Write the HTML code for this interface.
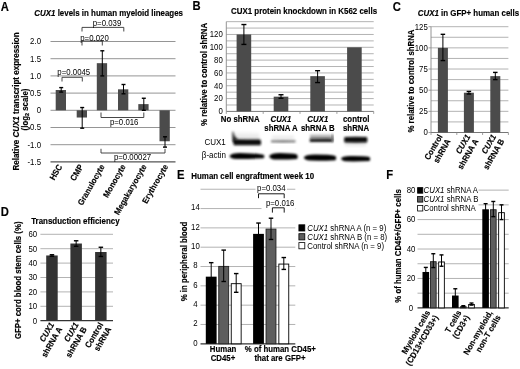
<!DOCTYPE html>
<html><head><meta charset="utf-8"><style>
html,body{margin:0;padding:0;background:#fff;}
svg{display:block;filter:blur(0.3px);font-family:"Liberation Sans", sans-serif;}
text{stroke:#000;stroke-width:0px;}
text[font-weight=bold],g text{stroke-width:0.15px;}
</style></head><body>
<svg width="520" height="369" viewBox="0 0 520 369">
<rect width="520" height="369" fill="#fff"/>
<text x="0" y="0" font-size="12.10" font-weight="bold" text-anchor="start" fill="#000" transform="translate(0.80 10.60) scale(0.93 1)">A</text>
<text x="0" y="0" font-size="8.53" font-weight="bold" text-anchor="start" fill="#000" transform="translate(34.30 15.50) scale(0.93 1)"><tspan font-style="italic">CUX1</tspan> levels in human myeloid lineages</text>
<line x1="50.50" y1="41.50" x2="175.50" y2="41.50" stroke="#7a7a7a" stroke-width="0.8"/>
<text x="0" y="0" font-size="8.42" text-anchor="end" fill="#000" transform="translate(41.00 44.30) scale(0.93 1)">2.0</text>
<line x1="50.50" y1="58.70" x2="175.50" y2="58.70" stroke="#7a7a7a" stroke-width="0.8"/>
<text x="0" y="0" font-size="8.42" text-anchor="end" fill="#000" transform="translate(41.00 61.50) scale(0.93 1)">1.5</text>
<line x1="50.50" y1="75.90" x2="175.50" y2="75.90" stroke="#7a7a7a" stroke-width="0.8"/>
<text x="0" y="0" font-size="8.42" text-anchor="end" fill="#000" transform="translate(41.00 78.70) scale(0.93 1)">1.0</text>
<line x1="50.50" y1="93.10" x2="175.50" y2="93.10" stroke="#7a7a7a" stroke-width="0.8"/>
<text x="0" y="0" font-size="8.42" text-anchor="end" fill="#000" transform="translate(41.00 95.90) scale(0.93 1)">0.5</text>
<line x1="50.50" y1="110.30" x2="175.50" y2="110.30" stroke="#7a7a7a" stroke-width="0.8"/>
<text x="0" y="0" font-size="8.42" text-anchor="end" fill="#000" transform="translate(41.00 113.10) scale(0.93 1)">0</text>
<line x1="50.50" y1="127.50" x2="175.50" y2="127.50" stroke="#7a7a7a" stroke-width="0.8"/>
<text x="0" y="0" font-size="8.42" text-anchor="end" fill="#000" transform="translate(41.00 130.30) scale(0.93 1)">-0.5</text>
<line x1="50.50" y1="144.70" x2="175.50" y2="144.70" stroke="#7a7a7a" stroke-width="0.8"/>
<text x="0" y="0" font-size="8.42" text-anchor="end" fill="#000" transform="translate(41.00 147.50) scale(0.93 1)">-1.0</text>
<line x1="50.50" y1="161.90" x2="175.50" y2="161.90" stroke="#555" stroke-width="1.3"/>
<text x="0" y="0" font-size="8.42" text-anchor="end" fill="#000" transform="translate(41.00 164.70) scale(0.93 1)">-1.5</text>
<text x="0" y="0" font-size="8.64" font-weight="bold" text-anchor="middle" fill="#000" transform="translate(19.20 101.50) rotate(-90) scale(0.93 1)">Relative <tspan font-style="italic">CUX1</tspan> transcript expression</text>
<text x="0" y="0" font-size="8.42" font-weight="bold" text-anchor="middle" transform="translate(27.8 109.5) rotate(-90) scale(0.93 1)">(log<tspan font-size="5.94" dy="1.5">2</tspan><tspan dy="-1.5"> scale)</tspan></text>
<rect x="55.70" y="90.00" width="10.30" height="20.30" fill="#4b4b4b"/>
<rect x="76.70" y="110.30" width="10.30" height="7.22" fill="#4b4b4b"/>
<rect x="96.80" y="63.17" width="10.30" height="47.13" fill="#4b4b4b"/>
<rect x="118.00" y="89.32" width="10.30" height="20.98" fill="#4b4b4b"/>
<rect x="138.30" y="104.11" width="10.30" height="6.19" fill="#4b4b4b"/>
<rect x="159.50" y="110.30" width="10.30" height="30.96" fill="#4b4b4b"/>
<line x1="61.20" y1="87.60" x2="61.20" y2="92.07" stroke="#000" stroke-width="1"/>
<line x1="59.20" y1="87.60" x2="63.20" y2="87.60" stroke="#000" stroke-width="1.4"/>
<line x1="59.20" y1="92.07" x2="63.20" y2="92.07" stroke="#000" stroke-width="1.4"/>
<line x1="82.20" y1="107.55" x2="82.20" y2="128.19" stroke="#000" stroke-width="1"/>
<line x1="80.20" y1="107.55" x2="84.20" y2="107.55" stroke="#000" stroke-width="1.4"/>
<line x1="80.20" y1="128.19" x2="84.20" y2="128.19" stroke="#000" stroke-width="1.4"/>
<line x1="102.30" y1="50.79" x2="102.30" y2="75.90" stroke="#000" stroke-width="1"/>
<line x1="100.30" y1="50.79" x2="104.30" y2="50.79" stroke="#000" stroke-width="1.4"/>
<line x1="100.30" y1="75.90" x2="104.30" y2="75.90" stroke="#000" stroke-width="1.4"/>
<line x1="123.50" y1="84.50" x2="123.50" y2="93.79" stroke="#000" stroke-width="1"/>
<line x1="121.50" y1="84.50" x2="125.50" y2="84.50" stroke="#000" stroke-width="1.4"/>
<line x1="121.50" y1="93.79" x2="125.50" y2="93.79" stroke="#000" stroke-width="1.4"/>
<line x1="143.80" y1="98.26" x2="143.80" y2="110.30" stroke="#000" stroke-width="1"/>
<line x1="141.80" y1="98.26" x2="145.80" y2="98.26" stroke="#000" stroke-width="1.4"/>
<line x1="141.80" y1="110.30" x2="145.80" y2="110.30" stroke="#000" stroke-width="1.4"/>
<line x1="165.00" y1="136.79" x2="165.00" y2="147.11" stroke="#000" stroke-width="1"/>
<line x1="163.00" y1="136.79" x2="167.00" y2="136.79" stroke="#000" stroke-width="1.4"/>
<line x1="163.00" y1="147.11" x2="167.00" y2="147.11" stroke="#000" stroke-width="1.4"/>
<path d="M62.0 81.5 L62.0 77.3 L82.3 77.3 L82.3 81.5" stroke="#333" stroke-width="0.9" fill="none"/>
<text x="0" y="0" font-size="8.42" text-anchor="middle" fill="#000" transform="translate(73.80 75.30) scale(0.93 1)">p=0.0045</text>
<path d="M82.0 45.5 L82.0 41.0 L102.3 41.0 L102.3 45.5" stroke="#333" stroke-width="0.9" fill="none"/>
<text x="0" y="0" font-size="8.42" text-anchor="middle" fill="#000" transform="translate(94.50 40.50) scale(0.93 1)">p=0.020</text>
<path d="M82.0 31.5 L82.0 27.4 L123.8 27.4 L123.8 31.5" stroke="#333" stroke-width="0.9" fill="none"/>
<text x="0" y="0" font-size="8.42" text-anchor="middle" fill="#000" transform="translate(107.00 26.20) scale(0.93 1)">p=0.039</text>
<path d="M101.0 112.5 L101.0 117.5 L143.8 117.5 L143.8 112.5" stroke="#333" stroke-width="0.9" fill="none"/>
<text x="0" y="0" font-size="8.42" text-anchor="middle" fill="#000" transform="translate(124.20 125.30) scale(0.93 1)">p=0.016</text>
<path d="M101.0 148.8 L101.0 153.0 L165.0 153.0 L165.0 148.8" stroke="#333" stroke-width="0.9" fill="none"/>
<text x="0" y="0" font-size="8.42" text-anchor="middle" fill="#000" transform="translate(132.50 160.20) scale(0.93 1)">p=0.00027</text>
<text x="0" y="0" font-size="8.42" font-weight="bold" text-anchor="end" fill="#000" transform="translate(62.50 166.50) rotate(-60) scale(0.93 1)">HSC</text>
<text x="0" y="0" font-size="8.42" font-weight="bold" text-anchor="end" fill="#000" transform="translate(83.50 166.50) rotate(-60) scale(0.93 1)">CMP</text>
<text x="0" y="0" font-size="8.42" font-weight="bold" text-anchor="end" fill="#000" transform="translate(105.00 166.50) rotate(-60) scale(0.93 1)">Granulocyte</text>
<text x="0" y="0" font-size="8.42" font-weight="bold" text-anchor="end" fill="#000" transform="translate(126.00 166.50) rotate(-60) scale(0.93 1)">Monocyte</text>
<text x="0" y="0" font-size="8.42" font-weight="bold" text-anchor="end" fill="#000" transform="translate(147.00 166.50) rotate(-60) scale(0.93 1)">Megakaryocyte</text>
<text x="0" y="0" font-size="8.42" font-weight="bold" text-anchor="end" fill="#000" transform="translate(168.50 166.50) rotate(-60) scale(0.93 1)">Erythrocyte</text>
<text x="0" y="0" font-size="12.10" font-weight="bold" text-anchor="start" fill="#000" transform="translate(192.60 10.30) scale(0.93 1)">B</text>
<text x="0" y="0" font-size="8.53" font-weight="bold" text-anchor="start" fill="#000" transform="translate(231.00 14.00) scale(0.93 1)">CUX1 protein knockdown in K562 cells</text>
<line x1="226.30" y1="104.99" x2="373.70" y2="104.99" stroke="#a0a0a0" stroke-width="0.8"/>
<line x1="226.30" y1="98.58" x2="373.70" y2="98.58" stroke="#a0a0a0" stroke-width="0.8"/>
<line x1="226.30" y1="92.17" x2="373.70" y2="92.17" stroke="#a0a0a0" stroke-width="0.8"/>
<line x1="226.30" y1="85.76" x2="373.70" y2="85.76" stroke="#a0a0a0" stroke-width="0.8"/>
<line x1="226.30" y1="79.35" x2="373.70" y2="79.35" stroke="#a0a0a0" stroke-width="0.8"/>
<line x1="226.30" y1="72.94" x2="373.70" y2="72.94" stroke="#a0a0a0" stroke-width="0.8"/>
<line x1="226.30" y1="66.53" x2="373.70" y2="66.53" stroke="#a0a0a0" stroke-width="0.8"/>
<line x1="226.30" y1="60.12" x2="373.70" y2="60.12" stroke="#a0a0a0" stroke-width="0.8"/>
<line x1="226.30" y1="53.71" x2="373.70" y2="53.71" stroke="#a0a0a0" stroke-width="0.8"/>
<line x1="226.30" y1="47.30" x2="373.70" y2="47.30" stroke="#a0a0a0" stroke-width="0.8"/>
<line x1="226.30" y1="40.89" x2="373.70" y2="40.89" stroke="#a0a0a0" stroke-width="0.8"/>
<line x1="226.30" y1="34.48" x2="373.70" y2="34.48" stroke="#a0a0a0" stroke-width="0.8"/>
<line x1="226.30" y1="28.07" x2="373.70" y2="28.07" stroke="#a0a0a0" stroke-width="0.8"/>
<line x1="226.30" y1="21.66" x2="373.70" y2="21.66" stroke="#a0a0a0" stroke-width="0.8"/>
<line x1="226.30" y1="21.66" x2="226.30" y2="111.40" stroke="#888" stroke-width="0.9"/>
<line x1="226.30" y1="111.40" x2="373.70" y2="111.40" stroke="#777" stroke-width="1.0"/>
<line x1="226.30" y1="111.40" x2="226.30" y2="113.90" stroke="#888" stroke-width="0.8"/>
<line x1="263.20" y1="111.40" x2="263.20" y2="113.90" stroke="#888" stroke-width="0.8"/>
<line x1="300.00" y1="111.40" x2="300.00" y2="113.90" stroke="#888" stroke-width="0.8"/>
<line x1="336.90" y1="111.40" x2="336.90" y2="113.90" stroke="#888" stroke-width="0.8"/>
<line x1="373.70" y1="111.40" x2="373.70" y2="113.90" stroke="#888" stroke-width="0.8"/>
<text x="0" y="0" font-size="8.42" text-anchor="end" fill="#000" transform="translate(222.80 114.20) scale(0.93 1)">0</text>
<text x="0" y="0" font-size="8.42" text-anchor="end" fill="#000" transform="translate(222.80 101.38) scale(0.93 1)">20</text>
<text x="0" y="0" font-size="8.42" text-anchor="end" fill="#000" transform="translate(222.80 88.56) scale(0.93 1)">40</text>
<text x="0" y="0" font-size="8.42" text-anchor="end" fill="#000" transform="translate(222.80 75.74) scale(0.93 1)">60</text>
<text x="0" y="0" font-size="8.42" text-anchor="end" fill="#000" transform="translate(222.80 62.92) scale(0.93 1)">80</text>
<text x="0" y="0" font-size="8.42" text-anchor="end" fill="#000" transform="translate(222.80 50.10) scale(0.93 1)">100</text>
<text x="0" y="0" font-size="8.42" text-anchor="end" fill="#000" transform="translate(222.80 37.28) scale(0.93 1)">120</text>
<text x="0" y="0" font-size="8.42" font-weight="bold" text-anchor="middle" fill="#000" transform="translate(206.60 74.40) rotate(-90) scale(0.93 1)">% relative to control shRNA</text>
<rect x="236.60" y="34.48" width="14.60" height="76.92" fill="#4b4b4b"/>
<line x1="243.90" y1="24.54" x2="243.90" y2="44.42" stroke="#000" stroke-width="1"/>
<line x1="241.40" y1="24.54" x2="246.40" y2="24.54" stroke="#000" stroke-width="1.4"/>
<line x1="241.40" y1="44.42" x2="246.40" y2="44.42" stroke="#000" stroke-width="1.4"/>
<rect x="273.70" y="96.66" width="14.60" height="14.74" fill="#4b4b4b"/>
<line x1="281.00" y1="94.73" x2="281.00" y2="98.26" stroke="#000" stroke-width="1"/>
<line x1="278.50" y1="94.73" x2="283.50" y2="94.73" stroke="#000" stroke-width="1.4"/>
<line x1="278.50" y1="98.26" x2="283.50" y2="98.26" stroke="#000" stroke-width="1.4"/>
<rect x="310.30" y="76.15" width="14.60" height="35.25" fill="#4b4b4b"/>
<line x1="317.60" y1="70.70" x2="317.60" y2="82.56" stroke="#000" stroke-width="1"/>
<line x1="315.10" y1="70.70" x2="320.10" y2="70.70" stroke="#000" stroke-width="1.4"/>
<line x1="315.10" y1="82.56" x2="320.10" y2="82.56" stroke="#000" stroke-width="1.4"/>
<rect x="347.10" y="47.30" width="14.60" height="64.10" fill="#4b4b4b"/>
<text x="0" y="0" font-size="8.42" font-weight="bold" text-anchor="middle" fill="#000" transform="translate(240.20 122.20) scale(0.93 1)">No shRNA</text>
<text x="0" y="0" font-size="8.42" font-weight="bold" text-anchor="middle" fill="#000" transform="translate(281.00 122.00) scale(0.93 1)"><tspan font-style="italic">CUX1</tspan></text>
<text x="0" y="0" font-size="8.42" font-weight="bold" text-anchor="middle" fill="#000" transform="translate(281.00 130.80) scale(0.93 1)">shRNA A</text>
<text x="0" y="0" font-size="8.42" font-weight="bold" text-anchor="middle" fill="#000" transform="translate(317.80 122.00) scale(0.93 1)"><tspan font-style="italic">CUX1</tspan></text>
<text x="0" y="0" font-size="8.42" font-weight="bold" text-anchor="middle" fill="#000" transform="translate(317.80 130.80) scale(0.93 1)">shRNA B</text>
<text x="0" y="0" font-size="8.42" font-weight="bold" text-anchor="start" fill="#000" transform="translate(343.00 122.00) scale(0.93 1)">control</text>
<text x="0" y="0" font-size="8.42" font-weight="bold" text-anchor="start" fill="#000" transform="translate(343.00 130.80) scale(0.93 1)">shRNA</text>
<text x="0" y="0" font-size="8.64" text-anchor="start" fill="#000" transform="translate(204.40 145.20) scale(0.93 1)">CUX1</text>
<text x="0" y="0" font-size="8.64" text-anchor="start" fill="#000" transform="translate(201.80 157.80) scale(0.93 1)">&#946;-actin</text>
<defs><filter id="b1" x="-20%" y="-50%" width="140%" height="200%"><feGaussianBlur stdDeviation="0.7"/></filter><filter id="b2" x="-20%" y="-80%" width="140%" height="260%"><feGaussianBlur stdDeviation="1.4"/></filter></defs>
<defs><linearGradient id="g1" x1="0" y1="0" x2="0" y2="1"><stop offset="0" stop-color="#fafafa"/><stop offset="1" stop-color="#e0e0e0"/></linearGradient><linearGradient id="g2" x1="0" y1="0" x2="0" y2="1"><stop offset="0" stop-color="#9a9a9a"/><stop offset="0.5" stop-color="#4a4a4a"/><stop offset="1" stop-color="#111"/></linearGradient><linearGradient id="g3" x1="0" y1="0" x2="0" y2="1"><stop offset="0" stop-color="#3a3a3a"/><stop offset="0.35" stop-color="#050505"/><stop offset="1" stop-color="#101010"/></linearGradient><linearGradient id="g4" x1="0" y1="0" x2="0" y2="1"><stop offset="0" stop-color="#d6d6d6"/><stop offset="1" stop-color="#7a7a7a"/></linearGradient><filter id="b3" x="-20%" y="-50%" width="140%" height="200%"><feGaussianBlur stdDeviation="0.9"/></filter></defs>
<path d="M234.5 131.5 L259 132.5 L259.5 139.3 L234.5 139.3 Z" fill="url(#g1)" filter="url(#b2)" opacity="1"/>
<path d="M231.8 131.5 L234.0 131.5 Q234.5 136.5 237.5 138.8 L236 141 L233 141.5 Q231.6 137 231.8 131.5 Z" fill="url(#g2)" filter="url(#b3)" opacity="1"/>
<path d="M233 139 Q247 139.2 260 139.3 Q262 142 260.5 145.2 L234 145.2 Q232.6 142 233 139 Z" fill="url(#g3)" filter="url(#b3)" opacity="1"/>
<path d="M272 135.6 L294 135.6 L294 139.6 L272 139.6 Z" fill="#ececec" filter="url(#b2)" opacity="1"/>
<path d="M271 140.2 Q283 139.9 295.5 140.2 L295.5 142.5 Q283 142.8 271 142.5 Z" fill="#858585" filter="url(#b3)" opacity="1"/>
<path d="M310 134.2 L331.8 134.2 L332.5 139.5 L310 139.5 Z" fill="url(#g4)" filter="url(#b3)" opacity="1"/>
<path d="M309.8 139.1 Q321 138.8 332.5 138.9 L332.5 141.9 Q321 142.2 309.8 142 Z" fill="#181818" filter="url(#b3)" opacity="1"/>
<path d="M331.6 134.5 L333.4 134.5 L333.6 141.9 L331.6 141.9 Z" fill="#555" filter="url(#b3)" opacity="1"/>
<path d="M345 142.8 L366 142.8 L366 146 L345 146 Z" fill="#e6e6e6" filter="url(#b2)" opacity="1"/>
<path d="M344.5 137 Q356 136.6 367 137 Q367.8 139.8 367 142.6 Q356 142.9 344.5 142.6 Q343.8 139.8 344.5 137 Z" fill="#080808" filter="url(#b3)" opacity="1"/>
<path d="M229.5 156 Q231 153.0 240 153.0 Q255 153.3 263.5 154.8 Q265 156.5 263.5 158.3 Q250 158.9 236 159.1 Q230 158.7 229.5 156 Z" fill="#000" filter="url(#b3)" opacity="1"/>
<path d="M269.2 156 Q271 153 280 153 Q292 153 297 154.5 Q298.5 157 297 159 Q285 159.8 274 159.5 Q269.5 158.7 269.2 156 Z" fill="#000" filter="url(#b3)" opacity="1"/>
<path d="M303.8 157.5 Q305 154.6 315 154.6 Q330 154.6 335.5 156 Q337 158 335.5 160.2 Q322 161 310 160.6 Q304.5 160 303.8 157.5 Z" fill="#000" filter="url(#b3)" opacity="1"/>
<path d="M341 158.5 Q342 156 350 156 Q363 155.8 369.5 157 Q371 159 369.5 161 Q357 161.6 346 161.3 Q341.5 160.8 341 158.5 Z" fill="#000" filter="url(#b3)" opacity="1"/>
<text x="0" y="0" font-size="12.10" font-weight="bold" text-anchor="start" fill="#000" transform="translate(392.80 10.60) scale(0.93 1)">C</text>
<text x="0" y="0" font-size="8.53" font-weight="bold" text-anchor="start" fill="#000" transform="translate(417.70 15.60) scale(0.93 1)"><tspan font-style="italic">CUX1</tspan> in GFP+ human cells</text>
<line x1="431.00" y1="121.92" x2="508.40" y2="121.92" stroke="#a0a0a0" stroke-width="0.8"/>
<line x1="431.00" y1="111.34" x2="508.40" y2="111.34" stroke="#a0a0a0" stroke-width="0.8"/>
<line x1="431.00" y1="100.76" x2="508.40" y2="100.76" stroke="#a0a0a0" stroke-width="0.8"/>
<line x1="431.00" y1="90.18" x2="508.40" y2="90.18" stroke="#a0a0a0" stroke-width="0.8"/>
<line x1="431.00" y1="79.60" x2="508.40" y2="79.60" stroke="#a0a0a0" stroke-width="0.8"/>
<line x1="431.00" y1="69.02" x2="508.40" y2="69.02" stroke="#a0a0a0" stroke-width="0.8"/>
<line x1="431.00" y1="58.44" x2="508.40" y2="58.44" stroke="#a0a0a0" stroke-width="0.8"/>
<line x1="431.00" y1="47.86" x2="508.40" y2="47.86" stroke="#a0a0a0" stroke-width="0.8"/>
<line x1="431.00" y1="37.28" x2="508.40" y2="37.28" stroke="#a0a0a0" stroke-width="0.8"/>
<line x1="431.00" y1="26.70" x2="508.40" y2="26.70" stroke="#a0a0a0" stroke-width="0.8"/>
<line x1="431.00" y1="26.70" x2="431.00" y2="132.50" stroke="#888" stroke-width="0.9"/>
<line x1="431.00" y1="132.50" x2="508.40" y2="132.50" stroke="#777" stroke-width="1.0"/>
<line x1="428.50" y1="132.50" x2="431.00" y2="132.50" stroke="#888" stroke-width="0.8"/>
<text x="0" y="0" font-size="8.42" text-anchor="end" fill="#000" transform="translate(427.80 135.30) scale(0.93 1)">0</text>
<line x1="428.50" y1="111.34" x2="431.00" y2="111.34" stroke="#888" stroke-width="0.8"/>
<text x="0" y="0" font-size="8.42" text-anchor="end" fill="#000" transform="translate(427.80 114.14) scale(0.93 1)">25</text>
<line x1="428.50" y1="90.18" x2="431.00" y2="90.18" stroke="#888" stroke-width="0.8"/>
<text x="0" y="0" font-size="8.42" text-anchor="end" fill="#000" transform="translate(427.80 92.98) scale(0.93 1)">50</text>
<line x1="428.50" y1="69.02" x2="431.00" y2="69.02" stroke="#888" stroke-width="0.8"/>
<text x="0" y="0" font-size="8.42" text-anchor="end" fill="#000" transform="translate(427.80 71.82) scale(0.93 1)">75</text>
<line x1="428.50" y1="47.86" x2="431.00" y2="47.86" stroke="#888" stroke-width="0.8"/>
<text x="0" y="0" font-size="8.42" text-anchor="end" fill="#000" transform="translate(427.80 50.66) scale(0.93 1)">100</text>
<line x1="428.50" y1="26.70" x2="431.00" y2="26.70" stroke="#888" stroke-width="0.8"/>
<text x="0" y="0" font-size="8.42" text-anchor="end" fill="#000" transform="translate(427.80 29.50) scale(0.93 1)">125</text>
<line x1="431.00" y1="132.50" x2="431.00" y2="135.00" stroke="#888" stroke-width="0.8"/>
<line x1="456.80" y1="132.50" x2="456.80" y2="135.00" stroke="#888" stroke-width="0.8"/>
<line x1="482.60" y1="132.50" x2="482.60" y2="135.00" stroke="#888" stroke-width="0.8"/>
<line x1="508.40" y1="132.50" x2="508.40" y2="135.00" stroke="#888" stroke-width="0.8"/>
<text x="0" y="0" font-size="8.42" font-weight="bold" text-anchor="middle" fill="#000" transform="translate(414.00 81.00) rotate(-90) scale(0.93 1)">% relative to control shRNA</text>
<rect x="437.90" y="47.86" width="10.00" height="84.64" fill="#4b4b4b"/>
<line x1="442.90" y1="34.32" x2="442.90" y2="60.56" stroke="#000" stroke-width="1"/>
<line x1="440.65" y1="34.32" x2="445.15" y2="34.32" stroke="#000" stroke-width="1.4"/>
<line x1="440.65" y1="60.56" x2="445.15" y2="60.56" stroke="#000" stroke-width="1.4"/>
<rect x="463.90" y="92.72" width="10.00" height="39.78" fill="#4b4b4b"/>
<line x1="468.90" y1="91.45" x2="468.90" y2="93.99" stroke="#000" stroke-width="1"/>
<line x1="466.65" y1="91.45" x2="471.15" y2="91.45" stroke="#000" stroke-width="1.4"/>
<line x1="466.65" y1="93.99" x2="471.15" y2="93.99" stroke="#000" stroke-width="1.4"/>
<rect x="490.30" y="76.13" width="10.00" height="56.37" fill="#4b4b4b"/>
<line x1="495.30" y1="72.41" x2="495.30" y2="79.60" stroke="#000" stroke-width="1"/>
<line x1="493.05" y1="72.41" x2="497.55" y2="72.41" stroke="#000" stroke-width="1.4"/>
<line x1="493.05" y1="79.60" x2="497.55" y2="79.60" stroke="#000" stroke-width="1.4"/>
<g transform="translate(442.90 136.50) rotate(-60)"><text x="0" y="0" font-size="8.42" font-weight="bold" text-anchor="end" transform="translate(0 0.00) scale(0.93 1)">Control</text><text x="0" y="0" font-size="8.42" font-weight="bold" text-anchor="end" transform="translate(0 9.30) scale(0.93 1)">shRNA</text></g>
<g transform="translate(470.70 136.50) rotate(-60)"><text x="0" y="0" font-size="8.42" font-weight="bold" text-anchor="end" transform="translate(0 0.00) scale(0.93 1)"><tspan font-style="italic">CUX1</tspan></text><text x="0" y="0" font-size="8.42" font-weight="bold" text-anchor="end" transform="translate(0 9.30) scale(0.93 1)">shRNA A</text></g>
<g transform="translate(496.50 136.50) rotate(-60)"><text x="0" y="0" font-size="8.42" font-weight="bold" text-anchor="end" transform="translate(0 0.00) scale(0.93 1)"><tspan font-style="italic">CUX1</tspan></text><text x="0" y="0" font-size="8.42" font-weight="bold" text-anchor="end" transform="translate(0 9.30) scale(0.93 1)">shRNA B</text></g>
<text x="0" y="0" font-size="12.10" font-weight="bold" text-anchor="start" fill="#000" transform="translate(0.80 215.60) scale(0.93 1)">D</text>
<text x="0" y="0" font-size="8.53" font-weight="bold" text-anchor="start" fill="#000" transform="translate(31.20 224.20) scale(0.93 1)">Transduction efficiency</text>
<line x1="40.40" y1="306.30" x2="113.00" y2="306.30" stroke="#a0a0a0" stroke-width="0.8"/>
<line x1="40.40" y1="291.90" x2="113.00" y2="291.90" stroke="#a0a0a0" stroke-width="0.8"/>
<line x1="40.40" y1="277.50" x2="113.00" y2="277.50" stroke="#a0a0a0" stroke-width="0.8"/>
<line x1="40.40" y1="263.10" x2="113.00" y2="263.10" stroke="#a0a0a0" stroke-width="0.8"/>
<line x1="40.40" y1="248.70" x2="113.00" y2="248.70" stroke="#a0a0a0" stroke-width="0.8"/>
<line x1="40.40" y1="234.30" x2="113.00" y2="234.30" stroke="#a0a0a0" stroke-width="0.8"/>
<line x1="40.40" y1="320.70" x2="113.00" y2="320.70" stroke="#333" stroke-width="1.2"/>
<text x="0" y="0" font-size="8.42" text-anchor="end" fill="#000" transform="translate(37.20 323.50) scale(0.93 1)">0</text>
<text x="0" y="0" font-size="8.42" text-anchor="end" fill="#000" transform="translate(37.20 309.10) scale(0.93 1)">10</text>
<text x="0" y="0" font-size="8.42" text-anchor="end" fill="#000" transform="translate(37.20 294.70) scale(0.93 1)">20</text>
<text x="0" y="0" font-size="8.42" text-anchor="end" fill="#000" transform="translate(37.20 280.30) scale(0.93 1)">30</text>
<text x="0" y="0" font-size="8.42" text-anchor="end" fill="#000" transform="translate(37.20 265.90) scale(0.93 1)">40</text>
<text x="0" y="0" font-size="8.42" text-anchor="end" fill="#000" transform="translate(37.20 251.50) scale(0.93 1)">50</text>
<text x="0" y="0" font-size="8.42" text-anchor="end" fill="#000" transform="translate(37.20 237.10) scale(0.93 1)">60</text>
<text x="0" y="0" font-size="8.42" font-weight="bold" text-anchor="middle" fill="#000" transform="translate(20.80 280.30) rotate(-90) scale(0.93 1)">GFP+ cord blood stem cells (%)</text>
<rect x="46.20" y="255.47" width="11.50" height="65.23" fill="#333333"/>
<line x1="51.95" y1="254.75" x2="51.95" y2="256.19" stroke="#000" stroke-width="1"/>
<line x1="49.70" y1="254.75" x2="54.20" y2="254.75" stroke="#000" stroke-width="1.4"/>
<line x1="49.70" y1="256.19" x2="54.20" y2="256.19" stroke="#000" stroke-width="1.4"/>
<rect x="70.40" y="243.52" width="11.50" height="77.18" fill="#333333"/>
<line x1="76.15" y1="240.78" x2="76.15" y2="246.25" stroke="#000" stroke-width="1"/>
<line x1="73.90" y1="240.78" x2="78.40" y2="240.78" stroke="#000" stroke-width="1.4"/>
<line x1="73.90" y1="246.25" x2="78.40" y2="246.25" stroke="#000" stroke-width="1.4"/>
<rect x="95.10" y="252.01" width="11.50" height="68.69" fill="#333333"/>
<line x1="100.85" y1="247.26" x2="100.85" y2="256.48" stroke="#000" stroke-width="1"/>
<line x1="98.60" y1="247.26" x2="103.10" y2="247.26" stroke="#000" stroke-width="1.4"/>
<line x1="98.60" y1="256.48" x2="103.10" y2="256.48" stroke="#000" stroke-width="1.4"/>
<g transform="translate(54.50 324.50) rotate(-60)"><text x="0" y="0" font-size="8.42" font-weight="bold" text-anchor="end" transform="translate(0 0.00) scale(0.93 1)"><tspan font-style="italic">CUX1</tspan></text><text x="0" y="0" font-size="8.42" font-weight="bold" text-anchor="end" transform="translate(0 9.30) scale(0.93 1)">shRNA A</text></g>
<g transform="translate(79.00 324.50) rotate(-60)"><text x="0" y="0" font-size="8.42" font-weight="bold" text-anchor="end" transform="translate(0 0.00) scale(0.93 1)"><tspan font-style="italic">CUX1</tspan></text><text x="0" y="0" font-size="8.42" font-weight="bold" text-anchor="end" transform="translate(0 9.30) scale(0.93 1)">shRNA B</text></g>
<g transform="translate(103.50 324.50) rotate(-60)"><text x="0" y="0" font-size="8.42" font-weight="bold" text-anchor="end" transform="translate(0 0.00) scale(0.93 1)">Control</text><text x="0" y="0" font-size="8.42" font-weight="bold" text-anchor="end" transform="translate(0 9.30) scale(0.93 1)">shRNA</text></g>
<text x="0" y="0" font-size="12.10" font-weight="bold" text-anchor="start" fill="#000" transform="translate(177.00 179.40) scale(0.93 1)">E</text>
<text x="0" y="0" font-size="8.53" font-weight="bold" text-anchor="start" fill="#000" transform="translate(191.30 178.90) scale(0.93 1)">Human cell engraftment week 10</text>
<line x1="200.50" y1="324.48" x2="295.30" y2="324.48" stroke="#a0a0a0" stroke-width="0.8"/>
<line x1="200.50" y1="305.16" x2="295.30" y2="305.16" stroke="#a0a0a0" stroke-width="0.8"/>
<line x1="200.50" y1="285.84" x2="295.30" y2="285.84" stroke="#a0a0a0" stroke-width="0.8"/>
<line x1="200.50" y1="266.52" x2="295.30" y2="266.52" stroke="#a0a0a0" stroke-width="0.8"/>
<line x1="200.50" y1="247.20" x2="295.30" y2="247.20" stroke="#a0a0a0" stroke-width="0.8"/>
<line x1="200.50" y1="227.88" x2="295.30" y2="227.88" stroke="#a0a0a0" stroke-width="0.8"/>
<line x1="200.50" y1="208.56" x2="295.30" y2="208.56" stroke="#a0a0a0" stroke-width="0.8"/>
<line x1="200.50" y1="189.24" x2="295.30" y2="189.24" stroke="#a0a0a0" stroke-width="0.8"/>
<line x1="200.50" y1="343.80" x2="295.30" y2="343.80" stroke="#333" stroke-width="1.2"/>
<text x="0" y="0" font-size="8.42" text-anchor="middle" fill="#000" transform="translate(195.40 345.70) scale(0.93 1)">0</text>
<text x="0" y="0" font-size="8.42" text-anchor="middle" fill="#000" transform="translate(195.40 326.38) scale(0.93 1)">2</text>
<text x="0" y="0" font-size="8.42" text-anchor="middle" fill="#000" transform="translate(195.40 307.06) scale(0.93 1)">4</text>
<text x="0" y="0" font-size="8.42" text-anchor="middle" fill="#000" transform="translate(195.40 287.74) scale(0.93 1)">6</text>
<text x="0" y="0" font-size="8.42" text-anchor="middle" fill="#000" transform="translate(195.40 268.42) scale(0.93 1)">8</text>
<text x="0" y="0" font-size="8.42" text-anchor="middle" fill="#000" transform="translate(195.40 249.10) scale(0.93 1)">10</text>
<text x="0" y="0" font-size="8.42" text-anchor="middle" fill="#000" transform="translate(195.40 229.78) scale(0.93 1)">12</text>
<text x="0" y="0" font-size="8.42" text-anchor="middle" fill="#000" transform="translate(195.40 210.46) scale(0.93 1)">14</text>
<text x="0" y="0" font-size="8.42" font-weight="bold" text-anchor="middle" fill="#000" transform="translate(186.50 261.50) rotate(-90) scale(0.93 1)">% in peripheral blood</text>
<rect x="205.80" y="276.66" width="10.80" height="67.14" fill="#000"/>
<rect x="218.75" y="266.39" width="9.90" height="77.41" fill="#5e5e5e" stroke="#222" stroke-width="0.9"/>
<rect x="231.25" y="283.68" width="9.90" height="60.12" fill="#fff" stroke="#000" stroke-width="0.9"/>
<line x1="211.20" y1="262.66" x2="211.20" y2="290.67" stroke="#000" stroke-width="1"/>
<line x1="208.95" y1="262.66" x2="213.45" y2="262.66" stroke="#000" stroke-width="1.4"/>
<line x1="208.95" y1="290.67" x2="213.45" y2="290.67" stroke="#000" stroke-width="1.4"/>
<line x1="223.70" y1="250.10" x2="223.70" y2="281.49" stroke="#000" stroke-width="1"/>
<line x1="221.45" y1="250.10" x2="225.95" y2="250.10" stroke="#000" stroke-width="1.4"/>
<line x1="221.45" y1="281.49" x2="225.95" y2="281.49" stroke="#000" stroke-width="1.4"/>
<line x1="236.20" y1="273.57" x2="236.20" y2="292.31" stroke="#000" stroke-width="1"/>
<line x1="233.95" y1="273.57" x2="238.45" y2="273.57" stroke="#000" stroke-width="1.4"/>
<line x1="233.95" y1="292.31" x2="238.45" y2="292.31" stroke="#000" stroke-width="1.4"/>
<rect x="253.10" y="233.87" width="10.80" height="109.93" fill="#000"/>
<rect x="266.05" y="229.10" width="9.90" height="114.70" fill="#5e5e5e" stroke="#222" stroke-width="0.9"/>
<rect x="278.85" y="264.07" width="9.90" height="79.73" fill="#fff" stroke="#000" stroke-width="0.9"/>
<line x1="258.50" y1="223.05" x2="258.50" y2="244.30" stroke="#000" stroke-width="1"/>
<line x1="256.25" y1="223.05" x2="260.75" y2="223.05" stroke="#000" stroke-width="1.4"/>
<line x1="256.25" y1="244.30" x2="260.75" y2="244.30" stroke="#000" stroke-width="1.4"/>
<line x1="271.00" y1="218.22" x2="271.00" y2="239.47" stroke="#000" stroke-width="1"/>
<line x1="268.75" y1="218.22" x2="273.25" y2="218.22" stroke="#000" stroke-width="1.4"/>
<line x1="268.75" y1="239.47" x2="273.25" y2="239.47" stroke="#000" stroke-width="1.4"/>
<line x1="283.80" y1="257.54" x2="283.80" y2="269.42" stroke="#000" stroke-width="1"/>
<line x1="281.55" y1="257.54" x2="286.05" y2="257.54" stroke="#000" stroke-width="1.4"/>
<line x1="281.55" y1="269.42" x2="286.05" y2="269.42" stroke="#000" stroke-width="1.4"/>
<rect x="255.50" y="184.50" width="31.50" height="7.50" fill="#fff"/>
<text x="0" y="0" font-size="8.42" text-anchor="middle" fill="#000" transform="translate(271.30 191.00) scale(0.93 1)">p=0.034</text>
<path d="M258.5 198.2 L258.5 193.8 L284.2 193.8 L284.2 198.2" stroke="#000" stroke-width="0.9" fill="none"/>
<rect x="261.50" y="199.00" width="33.50" height="10.50" fill="#fff"/>
<text x="0" y="0" font-size="8.42" text-anchor="middle" fill="#000" transform="translate(280.20 206.30) scale(0.93 1)">p=0.016</text>
<path d="M272.4 212.6 L272.4 207.8 L284.2 207.8 L284.2 212.6" stroke="#000" stroke-width="0.9" fill="none"/>
<text x="0" y="0" font-size="8.42" font-weight="bold" text-anchor="middle" fill="#000" transform="translate(223.00 352.00) scale(0.93 1)">Human</text>
<text x="0" y="0" font-size="8.42" font-weight="bold" text-anchor="middle" fill="#000" transform="translate(223.00 360.50) scale(0.93 1)">CD45+</text>
<text x="0" y="0" font-size="8.42" font-weight="bold" text-anchor="middle" fill="#000" transform="translate(280.30 352.00) scale(0.93 1)">% of human CD45+</text>
<text x="0" y="0" font-size="8.42" font-weight="bold" text-anchor="middle" fill="#000" transform="translate(280.00 360.50) scale(0.93 1)">that are GFP+</text>
<rect x="298.90" y="224.80" width="5.90" height="6.20" fill="#000" stroke="#000" stroke-width="0.8"/>
<text x="0" y="0" font-size="8.42" text-anchor="start" fill="#000" transform="translate(307.30 231.40) scale(0.93 1)"><tspan font-style="italic">CUX1</tspan> shRNA A (n = 9)</text>
<rect x="298.90" y="233.70" width="5.90" height="6.20" fill="#5e5e5e" stroke="#000" stroke-width="0.8"/>
<text x="0" y="0" font-size="8.42" text-anchor="start" fill="#000" transform="translate(307.30 240.30) scale(0.93 1)"><tspan font-style="italic">CUX1</tspan> shRNA B (n = 8)</text>
<rect x="298.90" y="242.60" width="5.90" height="6.20" fill="#fff" stroke="#000" stroke-width="0.8"/>
<text x="0" y="0" font-size="8.42" text-anchor="start" fill="#000" transform="translate(307.30 249.20) scale(0.93 1)">Control shRNA (n = 9)</text>
<text x="0" y="0" font-size="12.10" font-weight="bold" text-anchor="start" fill="#000" transform="translate(386.30 179.30) scale(0.93 1)">F</text>
<line x1="417.50" y1="293.18" x2="508.70" y2="293.18" stroke="#a0a0a0" stroke-width="0.8"/>
<line x1="417.50" y1="278.46" x2="508.70" y2="278.46" stroke="#a0a0a0" stroke-width="0.8"/>
<line x1="417.50" y1="263.74" x2="508.70" y2="263.74" stroke="#a0a0a0" stroke-width="0.8"/>
<line x1="417.50" y1="249.02" x2="508.70" y2="249.02" stroke="#a0a0a0" stroke-width="0.8"/>
<line x1="417.50" y1="234.30" x2="508.70" y2="234.30" stroke="#a0a0a0" stroke-width="0.8"/>
<line x1="417.50" y1="219.58" x2="508.70" y2="219.58" stroke="#a0a0a0" stroke-width="0.8"/>
<line x1="417.50" y1="204.86" x2="508.70" y2="204.86" stroke="#a0a0a0" stroke-width="0.8"/>
<line x1="417.50" y1="190.14" x2="508.70" y2="190.14" stroke="#a0a0a0" stroke-width="0.8"/>
<line x1="417.50" y1="307.90" x2="508.70" y2="307.90" stroke="#333" stroke-width="1.2"/>
<text x="0" y="0" font-size="8.42" text-anchor="middle" fill="#000" transform="translate(411.00 310.70) scale(0.93 1)">0</text>
<text x="0" y="0" font-size="8.42" text-anchor="middle" fill="#000" transform="translate(411.00 281.26) scale(0.93 1)">20</text>
<text x="0" y="0" font-size="8.42" text-anchor="middle" fill="#000" transform="translate(411.00 251.82) scale(0.93 1)">40</text>
<text x="0" y="0" font-size="8.42" text-anchor="middle" fill="#000" transform="translate(411.00 222.38) scale(0.93 1)">60</text>
<text x="0" y="0" font-size="8.42" text-anchor="middle" fill="#000" transform="translate(411.00 192.94) scale(0.93 1)">80</text>
<text x="0" y="0" font-size="8.42" font-weight="bold" text-anchor="middle" fill="#000" transform="translate(401.20 246.00) rotate(-90) scale(0.93 1)">% of human CD45+/GFP+ cells</text>
<rect x="422.50" y="271.98" width="6.60" height="35.92" fill="#000"/>
<rect x="430.45" y="261.69" width="5.70" height="46.21" fill="#5e5e5e" stroke="#222" stroke-width="0.9"/>
<rect x="438.65" y="261.98" width="5.70" height="45.92" fill="#fff" stroke="#000" stroke-width="0.9"/>
<line x1="425.80" y1="267.42" x2="425.80" y2="276.25" stroke="#000" stroke-width="1"/>
<line x1="423.80" y1="267.42" x2="427.80" y2="267.42" stroke="#000" stroke-width="1.4"/>
<line x1="423.80" y1="276.25" x2="427.80" y2="276.25" stroke="#000" stroke-width="1.4"/>
<line x1="433.30" y1="253.73" x2="433.30" y2="267.57" stroke="#000" stroke-width="1"/>
<line x1="431.30" y1="253.73" x2="435.30" y2="253.73" stroke="#000" stroke-width="1.4"/>
<line x1="431.30" y1="267.57" x2="435.30" y2="267.57" stroke="#000" stroke-width="1.4"/>
<line x1="441.50" y1="254.91" x2="441.50" y2="266.24" stroke="#000" stroke-width="1"/>
<line x1="439.50" y1="254.91" x2="443.50" y2="254.91" stroke="#000" stroke-width="1.4"/>
<line x1="439.50" y1="266.24" x2="443.50" y2="266.24" stroke="#000" stroke-width="1.4"/>
<rect x="452.00" y="295.54" width="6.60" height="12.36" fill="#000"/>
<rect x="460.45" y="306.73" width="5.70" height="1.17" fill="#5e5e5e" stroke="#222" stroke-width="0.9"/>
<rect x="468.65" y="304.52" width="5.70" height="3.38" fill="#fff" stroke="#000" stroke-width="0.9"/>
<line x1="455.30" y1="288.76" x2="455.30" y2="299.07" stroke="#000" stroke-width="1"/>
<line x1="453.30" y1="288.76" x2="457.30" y2="288.76" stroke="#000" stroke-width="1.4"/>
<line x1="453.30" y1="299.07" x2="457.30" y2="299.07" stroke="#000" stroke-width="1.4"/>
<line x1="463.30" y1="305.69" x2="463.30" y2="306.87" stroke="#000" stroke-width="1"/>
<line x1="461.30" y1="305.69" x2="465.30" y2="305.69" stroke="#000" stroke-width="1.4"/>
<line x1="461.30" y1="306.87" x2="465.30" y2="306.87" stroke="#000" stroke-width="1.4"/>
<line x1="471.50" y1="303.04" x2="471.50" y2="305.10" stroke="#000" stroke-width="1"/>
<line x1="469.50" y1="303.04" x2="473.50" y2="303.04" stroke="#000" stroke-width="1.4"/>
<line x1="469.50" y1="305.10" x2="473.50" y2="305.10" stroke="#000" stroke-width="1.4"/>
<rect x="482.30" y="209.28" width="6.60" height="98.62" fill="#000"/>
<rect x="490.45" y="209.73" width="5.70" height="98.17" fill="#5e5e5e" stroke="#222" stroke-width="0.9"/>
<rect x="498.65" y="212.67" width="5.70" height="95.23" fill="#fff" stroke="#000" stroke-width="0.9"/>
<line x1="485.60" y1="203.68" x2="485.60" y2="214.43" stroke="#000" stroke-width="1"/>
<line x1="483.60" y1="203.68" x2="487.60" y2="203.68" stroke="#000" stroke-width="1.4"/>
<line x1="483.60" y1="214.43" x2="487.60" y2="214.43" stroke="#000" stroke-width="1.4"/>
<line x1="493.30" y1="201.47" x2="493.30" y2="216.64" stroke="#000" stroke-width="1"/>
<line x1="491.30" y1="201.47" x2="495.30" y2="201.47" stroke="#000" stroke-width="1.4"/>
<line x1="491.30" y1="216.64" x2="495.30" y2="216.64" stroke="#000" stroke-width="1.4"/>
<line x1="501.50" y1="204.86" x2="501.50" y2="219.58" stroke="#000" stroke-width="1"/>
<line x1="499.50" y1="204.86" x2="503.50" y2="204.86" stroke="#000" stroke-width="1.4"/>
<line x1="499.50" y1="219.58" x2="503.50" y2="219.58" stroke="#000" stroke-width="1.4"/>
<rect x="416.50" y="186.50" width="62.00" height="26.00" fill="#fff"/>
<rect x="417.60" y="187.60" width="5.20" height="5.60" fill="#000" stroke="#000" stroke-width="0.8"/>
<text x="0" y="0" font-size="8.42" text-anchor="start" fill="#000" transform="translate(423.60 193.20) scale(0.93 1)"><tspan font-style="italic">CUX1</tspan> shRNA A</text>
<rect x="417.60" y="196.50" width="5.20" height="5.60" fill="#5e5e5e" stroke="#000" stroke-width="0.8"/>
<text x="0" y="0" font-size="8.42" text-anchor="start" fill="#000" transform="translate(423.60 202.10) scale(0.93 1)"><tspan font-style="italic">CUX1</tspan> shRNA B</text>
<rect x="417.60" y="205.40" width="5.20" height="5.60" fill="#fff" stroke="#000" stroke-width="0.8"/>
<text x="0" y="0" font-size="8.42" text-anchor="start" fill="#000" transform="translate(423.60 211.00) scale(0.93 1)">Control shRNA</text>
<g transform="translate(430.50 312.50) rotate(-60)"><text x="0" y="0" font-size="8.42" font-weight="bold" text-anchor="end" transform="translate(0 0.00) scale(0.93 1)">Myeloid cells</text><text x="0" y="0" font-size="8.42" font-weight="bold" text-anchor="end" transform="translate(0 9.30) scale(0.93 1)">(CD13+/CD33+)</text></g>
<g transform="translate(461.70 312.50) rotate(-60)"><text x="0" y="0" font-size="8.42" font-weight="bold" text-anchor="end" transform="translate(0 0.00) scale(0.93 1)">T cells</text><text x="0" y="0" font-size="8.42" font-weight="bold" text-anchor="end" transform="translate(0 9.30) scale(0.93 1)">(CD3+)</text></g>
<g transform="translate(492.90 312.50) rotate(-60)"><text x="0" y="0" font-size="8.42" font-weight="bold" text-anchor="end" transform="translate(0 0.00) scale(0.93 1)">Non-myeloid,</text><text x="0" y="0" font-size="8.42" font-weight="bold" text-anchor="end" transform="translate(0 9.30) scale(0.93 1)">non-T cells</text></g>
</svg>
</body></html>
